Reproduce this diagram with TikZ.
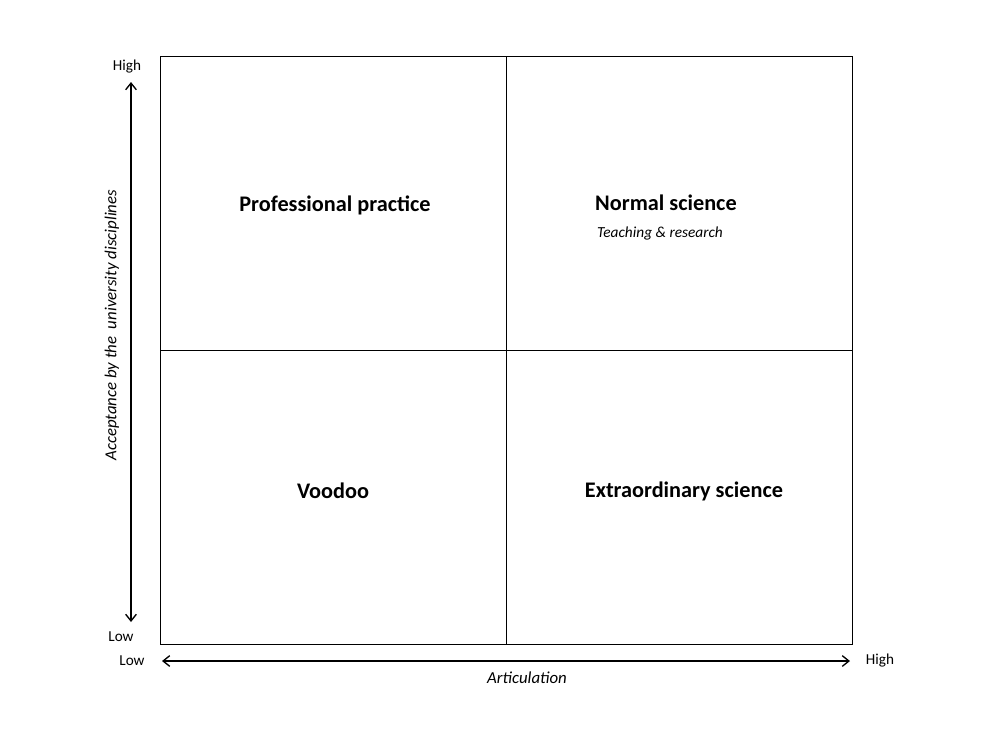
\documentclass[tikz,border=0pt]{standalone}
\usepackage{fontspec}
\setmainfont{Carlito}
\usetikzlibrary{arrows.meta}
\begin{document}
\begin{tikzpicture}[x=0.75pt,y=-0.75pt,
  big/.style={font=\fontsize{16.7}{19}\selectfont\bfseries},
  small/.style={font=\fontsize{11.4}{13}\selectfont},
  arr/.style={{Straight Barb[length=5pt,width=8pt]}-{Straight Barb[length=5pt,width=8pt]},line width=1pt}]
\useasboundingbox (0,0) rectangle (1000,750);
\draw[line width=0.6pt] (160,56) rectangle (852,644);
\draw[line width=0.6pt] (506.5,56) -- (506.5,644);
\draw[line width=0.6pt] (160,350) -- (852,350);
\node[big] (pp) at (335,205) {Professional practice};
\node[big] (ns) at (666,203) {Normal science};
\node[font=\fontsize{11.5}{13}\selectfont\itshape] (tr) at (660,233) {Teaching \& research};
\node[big] (vd) at (333,491) {Voodoo};
\node[big] (es) at (684,491) {Extraordinary science};
\node[small] (vh) at (127,67) {High};
\node[small] (vl) at (121,637) {Low};
\node[small] (hl) at (132,661) {Low};
\node[small] (hh) at (880,661) {High};
\coordinate (vt) at (131,82); \coordinate (vb) at (131,622);
\coordinate (hs) at (162,661); \coordinate (he) at (850,661);
\draw[arr] (vt) -- (vb);
\draw[arr] (hs) -- (he);
\node[font=\fontsize{12.6}{14}\selectfont\itshape,rotate=90] (yl) at (112,325) {Acceptance by the\ \ university disciplines};
\node[font=\fontsize{12.6}{14}\selectfont\itshape] (xl) at (527,678) {Articulation};
\end{tikzpicture}
\end{document}
